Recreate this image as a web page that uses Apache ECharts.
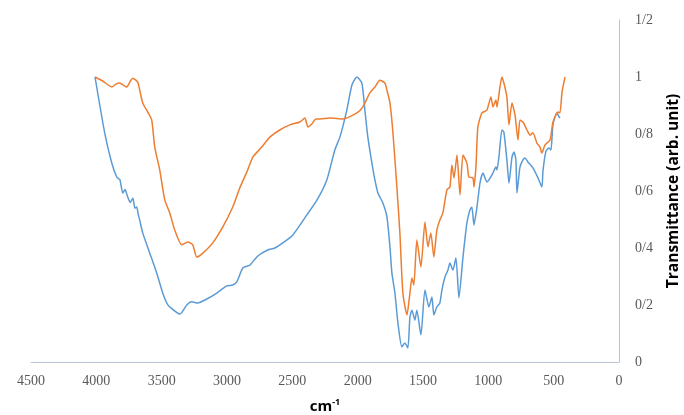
<!DOCTYPE html>
<html><head><meta charset="utf-8">
<script src="https://cdn.jsdelivr.net/npm/echarts@6/dist/echarts.min.js"></script>
<style>html,body{margin:0;padding:0;background:#fff}#c{width:684px;height:415px}</style>
</head><body><div id="c"></div>
<script>
const xTicks = [0, 500, 1000, 1500, 2000, 2500, 3000, 3500, 4000, 4500];
const yTicks = [0, 0.2, 0.4, 0.6, 0.8, 1.0, 1.2];
const orangeWn = [4010,3951,3882,3850,3821,3790,3767,3740,3721,3700,3683,3668,3645,3606,3576,3553,3515,3476,3438,3400,3346,3300,3262,3231,3185,3109,3032,2956,2902,2848,2802,2734,2672,2596,2519,2443,2404,2381,2351,2320,2289,2213,2113,2006,1960,1907,1868,1830,1792,1776,1753,1730,1700,1677,1654,1623,1600,1585,1570,1547,1516,1485,1462,1440,1417,1394,1371,1348,1317,1294,1279,1263,1240,1217,1194,1164,1149,1118,1110,1095,1080,1049,1011,980,965,942,934,911,896,881,858,842,819,796,773,758,735,704,681,659,628,605,590,567,528,505,467,452,436,413];
const orangeT = [1.000,0.986,0.965,0.975,0.979,0.970,0.965,0.985,0.996,0.990,0.982,0.954,0.909,0.877,0.849,0.754,0.674,0.568,0.523,0.463,0.411,0.421,0.411,0.368,0.382,0.418,0.474,0.544,0.611,0.667,0.719,0.754,0.789,0.814,0.832,0.842,0.856,0.825,0.835,0.853,0.853,0.856,0.853,0.874,0.895,0.944,0.965,0.989,0.979,0.954,0.909,0.804,0.614,0.453,0.242,0.165,0.242,0.295,0.270,0.428,0.333,0.491,0.404,0.453,0.368,0.463,0.498,0.523,0.604,0.614,0.691,0.646,0.726,0.586,0.726,0.698,0.649,0.646,0.614,0.684,0.825,0.874,0.884,0.930,0.895,0.919,0.895,0.965,1.000,0.979,0.930,0.832,0.909,0.867,0.779,0.849,0.842,0.814,0.796,0.804,0.768,0.754,0.733,0.761,0.779,0.842,0.877,0.874,0.947,1.000];
const blueWn = [4010,3936,3882,3844,3820,3798,3780,3760,3740,3720,3705,3691,3680,3668,3645,3591,3538,3492,3461,3438,3361,3308,3270,3224,3155,3078,3002,2956,2925,2879,2825,2764,2688,2634,2573,2496,2389,2312,2236,2175,2136,2083,2044,2006,1968,1945,1922,1891,1868,1845,1807,1776,1753,1738,1715,1692,1662,1639,1616,1600,1585,1562,1547,1516,1485,1455,1432,1417,1394,1371,1355,1332,1309,1294,1271,1248,1225,1194,1164,1141,1126,1110,1087,1064,1041,1011,995,965,942,934,919,896,881,858,842,819,804,789,781,758,735,720,697,659,620,590,582,559,536,521,505,475,459,452];
const blueT = [1.000,0.804,0.698,0.649,0.640,0.593,0.605,0.579,0.560,0.575,0.540,0.544,0.520,0.498,0.453,0.382,0.312,0.242,0.207,0.193,0.168,0.200,0.211,0.207,0.221,0.242,0.267,0.270,0.281,0.330,0.340,0.372,0.393,0.400,0.418,0.446,0.516,0.568,0.639,0.744,0.789,0.884,0.972,1.000,0.979,0.884,0.789,0.698,0.639,0.593,0.558,0.509,0.404,0.312,0.242,0.137,0.053,0.067,0.049,0.158,0.182,0.147,0.182,0.095,0.253,0.193,0.228,0.165,0.193,0.207,0.253,0.298,0.323,0.347,0.323,0.365,0.225,0.368,0.488,0.533,0.544,0.481,0.544,0.628,0.663,0.632,0.639,0.663,0.684,0.674,0.719,0.814,0.807,0.709,0.628,0.719,0.737,0.709,0.593,0.684,0.709,0.716,0.702,0.681,0.646,0.614,0.670,0.740,0.751,0.744,0.835,0.874,0.860,0.856];

const zip = (a, b) => a.map((v, i) => [v, b[i]]);
const chart = echarts.init(document.getElementById('c'), null, {renderer: 'canvas'});
const labelFont = {color: '#595959', fontFamily: 'Liberation Serif', fontSize: 14};
chart.setOption({
  animation: false,
  backgroundColor: '#fff',
  grid: {left: 31, right: 65, top: 20, bottom: 53, containLabel: false, outerBoundsMode: 'none'},
  xAxis: {
    type: 'value', inverse: true, min: xTicks[0], max: xTicks[xTicks.length - 1], interval: 500,
    axisLine: {show: true, lineStyle: {color: '#B9C3D3', width: 1}},
    axisTick: {show: false}, splitLine: {show: false},
    axisLabel: Object.assign({margin: 12, formatter: v => String(v)}, labelFont),
    name: '{a|cm}{b|-1}', nameLocation: 'middle', nameGap: 36,
    nameTextStyle: {rich: {
      a: {fontFamily: 'Open Sans', fontWeight: 'bold', fontSize: 15, color: '#000'},
      b: {fontFamily: 'Open Sans', fontWeight: 'bold', fontSize: 9, color: '#000', verticalAlign: 'top', padding: [0, 0, 8, 0]}
    }}
  },
  yAxis: {
    type: 'value', position: 'right', min: yTicks[0], max: yTicks[yTicks.length - 1], interval: 0.2,
    axisLine: {show: true, lineStyle: {color: '#B9C3D3', width: 1}},
    axisTick: {show: false}, splitLine: {show: false},
    axisLabel: Object.assign({margin: 16, formatter: v => String(+v.toFixed(1)).replace('.', '/')}, labelFont),
    name: 'Transmittance (arb. unit)', nameLocation: 'middle', nameGap: 47, nameRotate: 90,
    nameTextStyle: {fontFamily: 'Open Sans', fontWeight: 'bold', fontSize: 15.5, color: '#000'}
  },
  series: [
    {type: 'line', data: zip(blueWn, blueT), showSymbol: false, smooth: 0.2, lineStyle: {color: '#5B9BD5', width: 1.5}, itemStyle: {color: '#5B9BD5'}},
    {type: 'line', data: zip(orangeWn, orangeT), showSymbol: false, smooth: 0.2, lineStyle: {color: '#ED7D31', width: 1.5}, itemStyle: {color: '#ED7D31'}}
  ]
});
</script></body></html>
